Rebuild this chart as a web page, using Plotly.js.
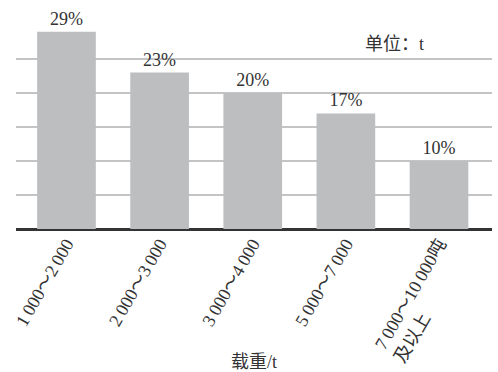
<!DOCTYPE html>
<html><head><meta charset="utf-8">
<script src="https://cdn.plot.ly/plotly-3.0.1.min.js"></script>
<style>html,body{margin:0;padding:0;background:#fff}</style>
</head><body><div id="chart" style="width:498px;height:372px"></div>
<script>
const pad = "&nbsp;".repeat(16);
const categories = ["1\u2009000～2\u2009000", "2\u2009000～3\u2009000", "3\u2009000～4\u2009000", "5\u2009000～7\u2009000", "7\u2009000～10\u2009000吨<br>及以上" + pad];
const shares = [29, 23, 20, 17, 10];
const valueLabels = ["29%", "23%", "20%", "17%", "10%"];
const unitNote = "单位：t";
const xTitle = "载重/t";

const font = "'Liberation Serif', 'Noto Sans CJK SC', serif";
Plotly.newPlot("chart", [{
  type: "bar",
  x: [0,1,2,3,4],
  y: shares,
  text: valueLabels,
  textposition: "outside",
  cliponaxis: false,
  textfont: {family: font, size: 18, color: "#333"},
  marker: {color: "#bdbec0"},
  width: 0.63,
  hoverinfo: "none"
}], {
  width: 498, height: 372,
  margin: {l: 16, r: 6, t: 25, b: 143},
  paper_bgcolor: "#fff", plot_bgcolor: "#fff",
  showlegend: false,
  font: {family: font, color: "#333", size: 18},
  xaxis: {
    range: [-0.542, 4.569],
    tickmode: "array", tickvals: [0,1,2,3,4], ticktext: categories,
    tickangle: -60, ticks: "",
    showgrid: false, zeroline: false,
    showline: false,
    tickfont: {family: font, size: 18, color: "#333"},
    title: {text: xTitle, font: {family: font, size: 18, color: "#333"}, standoff: 4}
  },
  yaxis: {
    range: [0, 30], dtick: 5, showticklabels: false, ticks: "",
    showgrid: true, gridcolor: "#c4c4c4", gridwidth: 2,
    zeroline: true, zerolinecolor: "#333", zerolinewidth: 3
  },
  annotations: [{
    text: unitNote, xref: "paper", yref: "paper", x: 0.796, y: 0.905,
    xanchor: "center", yanchor: "middle", showarrow: false,
    font: {family: font, size: 18, color: "#333"}
  }]
}, {staticPlot: true});
</script></body></html>
